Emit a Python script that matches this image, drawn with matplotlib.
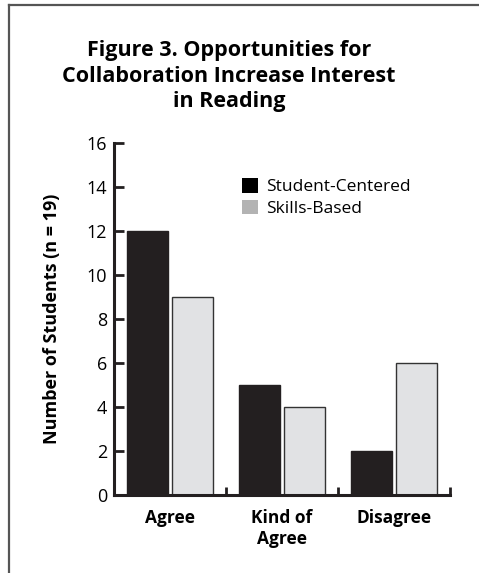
import matplotlib.pyplot as plt
from matplotlib.patches import Patch
from matplotlib.lines import Line2D
import numpy as np

categories = ['Agree', 'Kind of\nAgree', 'Disagree']
student_centered = [12, 5, 2]
skills_based = [9, 4, 6]
y_ticks = [0, 2, 4, 6, 8, 10, 12, 14, 16]

plt.rcParams['font.family'] = ['Open Sans', 'DejaVu Sans']

dark = '#231f20'
fig = plt.figure(figsize=(4.79, 5.73), dpi=100)
ax = fig.add_axes([114/479, 1 - 495/573, 336/479, 352/573])

x = np.arange(len(categories))
ax.bar(x - 0.2, student_centered, width=0.37, color=dark, edgecolor=dark, linewidth=1)
ax.bar(x + 0.2, skills_based, width=0.36, color='#e1e2e4', edgecolor='#333333', linewidth=1)

ax.set_xlim(-0.5, 2.5)
ax.set_ylim(0, 16)
ax.set_yticks(y_ticks)
ax.set_yticklabels([str(v) for v in y_ticks], fontsize=13)
ax.set_xticks(x)
ax.set_xticklabels(categories, fontsize=12.5, fontweight='bold', linespacing=1.25)
ax.tick_params(axis='x', length=0, pad=10)
ax.tick_params(axis='y', direction='in', length=7, width=2, color=dark, pad=5)

for s in ['top', 'right']:
    ax.spines[s].set_visible(False)
for s in ['left', 'bottom']:
    ax.spines[s].set_linewidth(2.2)
    ax.spines[s].set_color(dark)

# upward ticks at group boundaries
for b in [0.5, 1.5, 2.5]:
    ax.plot([b, b], [0, 0.35], color=dark, lw=2, clip_on=False, solid_capstyle='butt')

ax.set_ylabel('Number of Students (n = 19)', fontsize=13, fontweight='bold', labelpad=18)

handles = [Patch(facecolor='black', edgecolor='none'), Patch(facecolor='#b3b3b3', edgecolor='none')]
ax.legend(handles, ['Student-Centered', 'Skills-Based'], loc='upper left',
          bbox_to_anchor=(0.36, 0.92), frameon=False, fontsize=12.5,
          handlelength=0.9, handleheight=0.9, handletextpad=0.5, labelspacing=0.25,
          borderaxespad=0)

fig.text(229/479, 1 - 76/573, 'Figure 3. Opportunities for\nCollaboration Increase Interest\nin Reading',
         ha='center', va='center', fontsize=15.5, fontweight='bold', linespacing=1.3)

# frame
fig.add_artist(Line2D([9/479, 9/479], [0, 1 - 5/573], transform=fig.transFigure, color='#555555', lw=1.6))
fig.add_artist(Line2D([9/479, 1], [1 - 5/573, 1 - 5/573], transform=fig.transFigure, color='#555555', lw=1.6))

fig.savefig('out.png', dpi=100)
